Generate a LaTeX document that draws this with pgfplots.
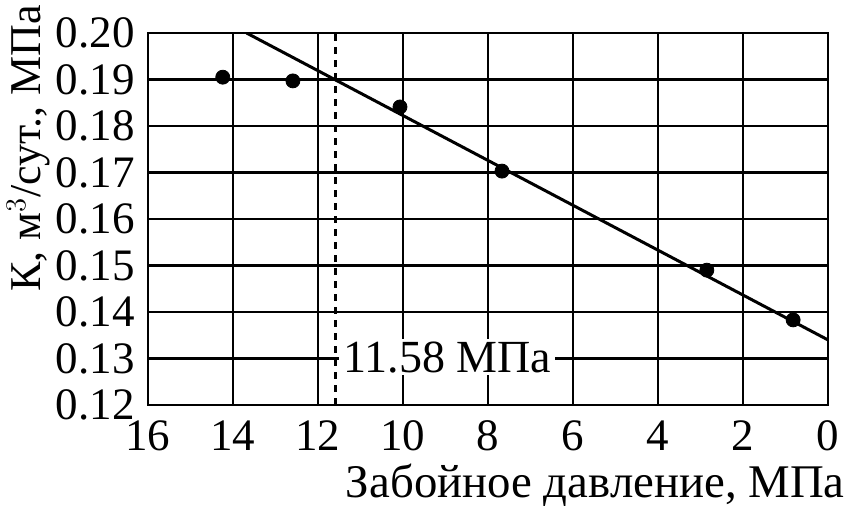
\documentclass[border=0pt]{standalone}
\usepackage{fontspec}
\setmainfont{Liberation Serif}
\usepackage{pgfplots}
\pgfplotsset{compat=1.18}
\begin{document}
\fontsize{22}{26}\selectfont
\begin{tikzpicture}
\begin{axis}[
  scale only axis, width=340pt, height=186pt,
  x dir=reverse,
  xmin=0, xmax=16, ymin=0.12, ymax=0.20,
  xtick={0,2,...,16}, ytick={0.12,0.13,...,0.201},
  yticklabel style={/pgf/number format/fixed,/pgf/number format/precision=2,/pgf/number format/fixed zerofill},
  /pgf/number format/assume math mode=true,
  grid=major, major grid style={black,line width=1.1pt},
  axis line style={black,line width=1.3pt},
  major tick length=0pt,
  xticklabel style={inner sep=1pt, yshift=-6.5pt},
  yticklabel style={inner sep=1pt, xshift=-5.5pt},
  tick label style={font=\fontsize{22.5}{26}\selectfont},
  xlabel={Забойное давление, МПа},
  xlabel style={at={(axis description cs:1.025,-0.248)},anchor=base east,inner sep=0pt,font=\fontsize{23.4}{28}\selectfont},
  ylabel={К, м$^3$/сут., МПа},
  ylabel style={at={(axis description cs:-0.176,0.69)},anchor=center,inner sep=0pt,font=\fontsize{22}{26}\selectfont},
]
\addplot[black, line width=1.5pt] coordinates {(13.68,0.200) (0,0.134)};
\addplot[black, line width=1.4pt, dash pattern=on 3.5pt off 3pt] coordinates {(11.58,0.12) (11.58,0.20)};
\addplot[only marks, mark=*, mark size=3.5pt, black] coordinates {
 (14.24,0.1905) (12.59,0.1897) (10.07,0.1841) (7.67,0.1703) (2.85,0.1490) (0.82,0.1383)};
\node[anchor=west, fill=white, inner xsep=2pt, inner ysep=1pt, xshift=1.5pt, font=\fontsize{23}{27}\selectfont] at (axis cs:11.58,0.1303) {11.58 МПа};
\coordinate (bl) at (rel axis cs:-0.2176,-0.2715);
\coordinate (tr) at (rel axis cs:1.0309,1.0887);
\end{axis}
\pgfresetboundingbox
\useasboundingbox (bl) rectangle (tr);
\end{tikzpicture}
\end{document}
